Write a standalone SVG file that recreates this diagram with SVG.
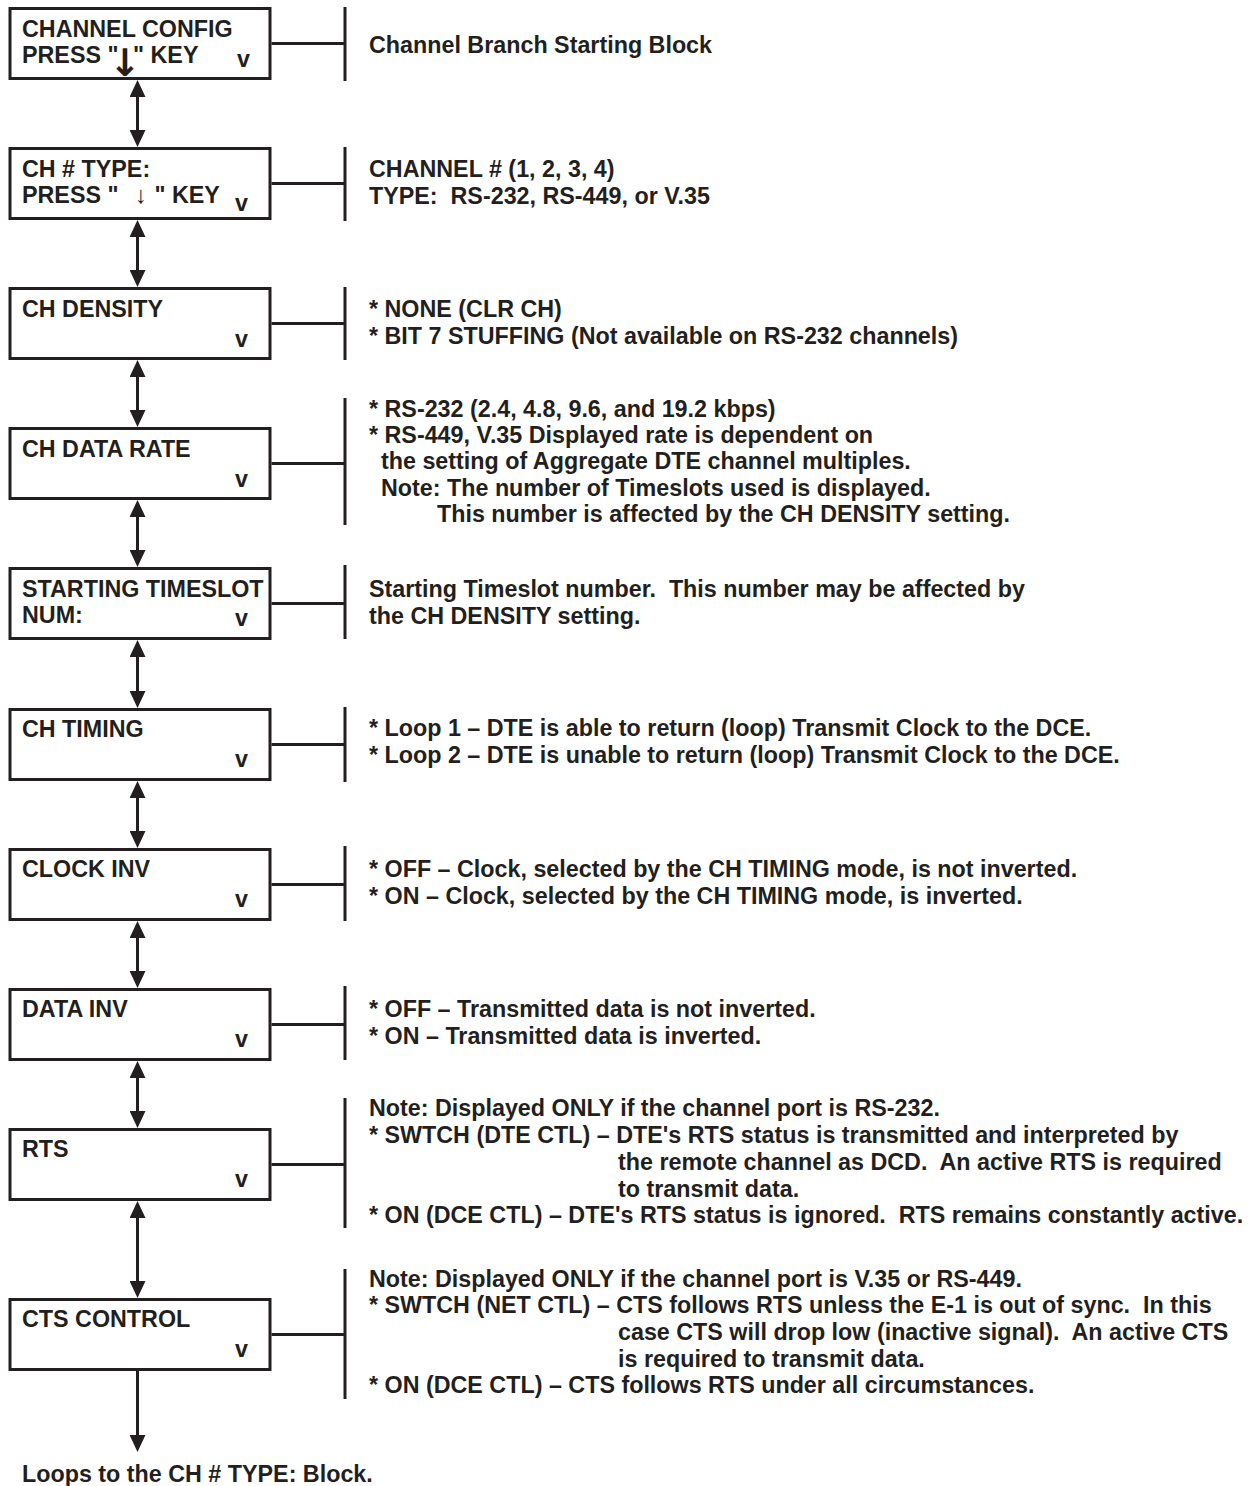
<svg xmlns="http://www.w3.org/2000/svg" width="1253" height="1486" viewBox="0 0 1253 1486">
<style>
text { font-family: "Liberation Sans", Arial, sans-serif; font-weight: bold; font-size: 23.3px; fill: #231f20; white-space: pre; }
.box { fill: #ffffff; stroke: #231f20; stroke-width: 3; }
.ln { fill: none; stroke: #231f20; stroke-width: 3; }
.arr { fill: none; stroke: #231f20; stroke-width: 3; marker-start: url(#ah); marker-end: url(#ah); }
.arr1 { fill: none; stroke: #231f20; stroke-width: 3; marker-end: url(#ah); }
.thin { font-weight: normal; font-size: 24px; }
.bold-arrow { font-family: "DejaVu Sans", sans-serif; font-size: 38px; }
</style>
<defs>
<marker id="ah" viewBox="0 0 17 16" refX="7" refY="8" markerWidth="17" markerHeight="16" markerUnits="userSpaceOnUse" orient="auto-start-reverse">
<path d="M0,0 L17,8 L0,16 Z" fill="#231f20"/>
</marker>
</defs>
<rect width="1253" height="1486" fill="#ffffff"/>

<g id="connectors">
<path class="arr" d="M137.5,90 V137"/>
<path class="arr" d="M137.5,230 V277"/>
<path class="arr" d="M137.5,370 V417"/>
<path class="arr" d="M137.5,510 V557"/>
<path class="arr" d="M137.5,650 V698"/>
<path class="arr" d="M137.5,791 V838"/>
<path class="arr" d="M137.5,931 V978"/>
<path class="arr" d="M137.5,1071 V1118"/>
<path class="arr" d="M137.5,1211 V1288"/>
<path class="arr1" d="M137.5,1371 V1442"/>
<path class="ln" d="M271.5,43.5 H345 M345,7 V81"/>
<path class="ln" d="M271.5,183.5 H345 M345,147 V221"/>
<path class="ln" d="M271.5,323.5 H345 M345,287 V360"/>
<path class="ln" d="M271.5,463.5 H345 M345,398 V525"/>
<path class="ln" d="M271.5,603.5 H345 M345,565 V639"/>
<path class="ln" d="M271.5,744.5 H345 M345,707 V782"/>
<path class="ln" d="M271.5,884.5 H345 M345,846 V921"/>
<path class="ln" d="M271.5,1024.5 H345 M345,986 V1060"/>
<path class="ln" d="M271.5,1164.5 H345 M345,1098 V1228"/>
<path class="ln" d="M271.5,1334.5 H345 M345,1269 V1399"/>
</g>

<g id="node-channel-config">
<rect class="box" x="10" y="8.5" width="260" height="70"/>
<text x="22" y="37">CHANNEL CONFIG</text>
<text x="22" y="63">PRESS "<tspan class="bold-arrow" x="109" y="76">↓</tspan><tspan x="133" y="63">" KEY</tspan></text>
<text x="237" y="67">v</text>
<text x="369" y="53">Channel Branch Starting Block</text>
</g>

<g id="node-ch-type">
<rect class="box" x="10" y="148.5" width="260" height="70"/>
<text x="22" y="177">CH # TYPE:</text>
<text x="22" y="203">PRESS " <tspan class="thin" x="135">↓</tspan><tspan x="148"> " KEY</tspan></text>
<text x="235" y="211">v</text>
<text x="369" y="177">CHANNEL # (1, 2, 3, 4)</text>
<text x="369" y="204">TYPE:  RS-232, RS-449, or V.35</text>
</g>

<g id="node-ch-density">
<rect class="box" x="10" y="288.5" width="260" height="70"/>
<text x="22" y="317">CH DENSITY</text>
<text x="235" y="347">v</text>
<text x="369" y="317">* NONE (CLR CH)</text>
<text x="369" y="344">* BIT 7 STUFFING (Not available on RS-232 channels)</text>
</g>

<g id="node-ch-data-rate">
<rect class="box" x="10" y="428.5" width="260" height="70"/>
<text x="22" y="457">CH DATA RATE</text>
<text x="235" y="487">v</text>
<text x="369" y="417">* RS-232 (2.4, 4.8, 9.6, and 19.2 kbps)</text>
<text x="369" y="443">* RS-449, V.35 Displayed rate is dependent on</text>
<text x="381" y="469">the setting of Aggregate DTE channel multiples.</text>
<text x="381" y="496">Note: The number of Timeslots used is displayed.</text>
<text x="437" y="522">This number is affected by the CH DENSITY setting.</text>
</g>

<g id="node-starting-timeslot">
<rect class="box" x="10" y="568.5" width="260" height="70"/>
<text x="22" y="597">STARTING TIMESLOT</text>
<text x="22" y="623">NUM:</text>
<text x="235" y="626">v</text>
<text x="369" y="597">Starting Timeslot number.  This number may be affected by</text>
<text x="369" y="624">the CH DENSITY setting.</text>
</g>

<g id="node-ch-timing">
<rect class="box" x="10" y="709.5" width="260" height="70"/>
<text x="22" y="737">CH TIMING</text>
<text x="235" y="767">v</text>
<text x="369" y="736">* Loop 1 – DTE is able to return (loop) Transmit Clock to the DCE.</text>
<text x="369" y="763">* Loop 2 – DTE is unable to return (loop) Transmit Clock to the DCE.</text>
</g>

<g id="node-clock-inv">
<rect class="box" x="10" y="849.5" width="260" height="70"/>
<text x="22" y="877">CLOCK INV</text>
<text x="235" y="907">v</text>
<text x="369" y="877">* OFF – Clock, selected by the CH TIMING mode, is not inverted.</text>
<text x="369" y="904">* ON – Clock, selected by the CH TIMING mode, is inverted.</text>
</g>

<g id="node-data-inv">
<rect class="box" x="10" y="989.5" width="260" height="70"/>
<text x="22" y="1017">DATA INV</text>
<text x="235" y="1047">v</text>
<text x="369" y="1017">* OFF – Transmitted data is not inverted.</text>
<text x="369" y="1044">* ON – Transmitted data is inverted.</text>
</g>

<g id="node-rts">
<rect class="box" x="10" y="1129.5" width="260" height="70"/>
<text x="22" y="1157">RTS</text>
<text x="235" y="1187">v</text>
<text x="369" y="1116">Note: Displayed ONLY if the channel port is RS-232.</text>
<text x="369" y="1143">* SWTCH (DTE CTL) – DTE's RTS status is transmitted and interpreted by</text>
<text x="618" y="1170">the remote channel as DCD.  An active RTS is required</text>
<text x="618" y="1197">to transmit data.</text>
<text x="369" y="1223">* ON (DCE CTL) – DTE's RTS status is ignored.  RTS remains constantly active.</text>
</g>

<g id="node-cts-control">
<rect class="box" x="10" y="1299.5" width="260" height="70"/>
<text x="22" y="1327">CTS CONTROL</text>
<text x="235" y="1357">v</text>
<text x="369" y="1287">Note: Displayed ONLY if the channel port is V.35 or RS-449.</text>
<text x="369" y="1313">* SWTCH (NET CTL) – CTS follows RTS unless the E-1 is out of sync.  In this</text>
<text x="618" y="1340">case CTS will drop low (inactive signal).  An active CTS</text>
<text x="618" y="1367">is required to transmit data.</text>
<text x="369" y="1393">* ON (DCE CTL) – CTS follows RTS under all circumstances.</text>
</g>

<g id="node-loops">
<text x="22" y="1482">Loops to the CH # TYPE: Block.</text>
</g>
</svg>
